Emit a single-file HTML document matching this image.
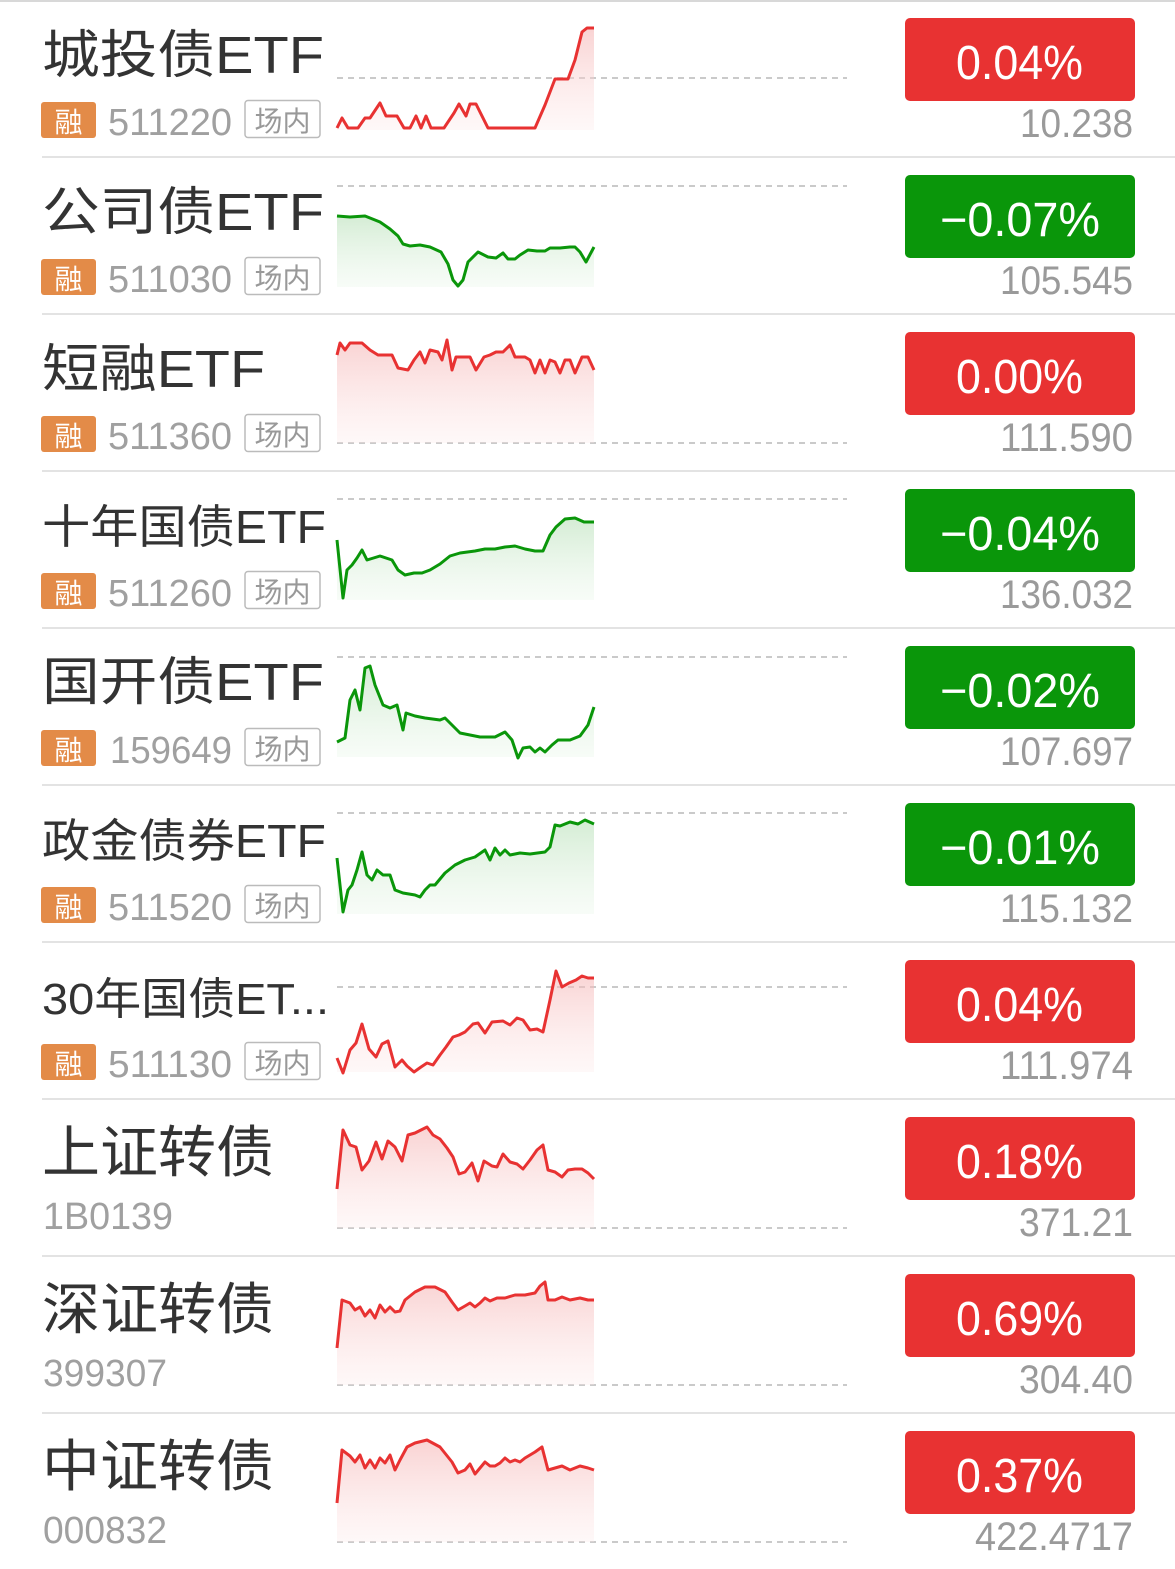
<!DOCTYPE html>
<html><head><meta charset="utf-8"><style>
html,body{margin:0;padding:0;background:#fff;}
svg{display:block;}
text{font-family:"Liberation Sans","Noto Sans CJK SC",sans-serif;}
</style></head><body>
<svg width="1175" height="1569" viewBox="0 0 1175 1569" xmlns="http://www.w3.org/2000/svg">
<defs>
<linearGradient id="gr" x1="0" y1="0" x2="0" y2="1"><stop offset="0" stop-color="#f5b5b5" stop-opacity="0.6"/><stop offset="1" stop-color="#fde8e8" stop-opacity="0.3"/></linearGradient>
<linearGradient id="gg" x1="0" y1="0" x2="0" y2="1"><stop offset="0" stop-color="#b8e0b8" stop-opacity="0.6"/><stop offset="1" stop-color="#e6f5e6" stop-opacity="0.3"/></linearGradient>
</defs>
<line x1="0" y1="1" x2="1175" y2="1" stroke="#d8d8d8" stroke-width="2"/>
<g stroke="#e3e3e3" stroke-width="2">
<line x1="42" y1="157" x2="1175" y2="157"/><line x1="42" y1="314" x2="1175" y2="314"/><line x1="42" y1="471" x2="1175" y2="471"/><line x1="42" y1="628" x2="1175" y2="628"/><line x1="42" y1="785" x2="1175" y2="785"/><line x1="42" y1="942" x2="1175" y2="942"/><line x1="42" y1="1099" x2="1175" y2="1099"/><line x1="42" y1="1256" x2="1175" y2="1256"/><line x1="42" y1="1413" x2="1175" y2="1413"/>
</g>
<g stroke="#b8b8b8" stroke-width="1.5" stroke-dasharray="6,5">
<line x1="337" y1="78" x2="847" y2="78"/><line x1="337" y1="186" x2="847" y2="186"/><line x1="337" y1="443" x2="847" y2="443"/><line x1="337" y1="499" x2="847" y2="499"/><line x1="337" y1="657" x2="847" y2="657"/><line x1="337" y1="813" x2="847" y2="813"/><line x1="337" y1="987" x2="847" y2="987"/><line x1="337" y1="1228" x2="847" y2="1228"/><line x1="337" y1="1385" x2="847" y2="1385"/><line x1="337" y1="1542" x2="847" y2="1542"/>
</g>
<g stroke-width="3" stroke-linejoin="round" fill="none">
<polygon fill="url(#gr)" stroke="none" points="337,128 342,118 348,128 358,128 365,118 370,118 380,103 386,116 397,116 404,128 410,128 416,116 421,128 426,116 431,128 444,128 454,113 459,104 466,116 470,104 476,104 488,128 535,128 545,105 555,79 568,79 575,60 582,32 587,28 594,28 594,130 337,130"/>
<polyline stroke="#e83232" points="337,128 342,118 348,128 358,128 365,118 370,118 380,103 386,116 397,116 404,128 410,128 416,116 421,128 426,116 431,128 444,128 454,113 459,104 466,116 470,104 476,104 488,128 535,128 545,105 555,79 568,79 575,60 582,32 587,28 594,28"/>
<polygon fill="url(#gg)" stroke="none" points="337,216 350,217 365,216 380,222 390,229 398,236 403,244 410,246 420,245 430,247 441,252 448,264 453,280 458,286 463,280 468,262 478,252 488,257 496,258 503,253 508,259 515,259 520,255 528,250 537,251 545,251 550,248 560,248 570,247 575,247 580,252 586,262 594,247 594,287 337,287"/>
<polyline stroke="#0a960a" points="337,216 350,217 365,216 380,222 390,229 398,236 403,244 410,246 420,245 430,247 441,252 448,264 453,280 458,286 463,280 468,262 478,252 488,257 496,258 503,253 508,259 515,259 520,255 528,250 537,251 545,251 550,248 560,248 570,247 575,247 580,252 586,262 594,247"/>
<polygon fill="url(#gr)" stroke="none" points="337,355 340,343 345,350 350,343 357,343 362,343 370,350 378,355 384,355 392,355 398,368 408,370 414,360 420,352 425,363 430,350 438,352 442,360 447,340 452,370 456,357 462,357 470,357 476,370 484,357 490,355 496,352 503,352 510,345 515,357 525,357 530,360 535,373 540,360 545,373 550,360 555,362 560,373 565,360 570,360 575,373 582,357 588,357 594,370 594,443 337,443"/>
<polyline stroke="#e83232" points="337,355 340,343 345,350 350,343 357,343 362,343 370,350 378,355 384,355 392,355 398,368 408,370 414,360 420,352 425,363 430,350 438,352 442,360 447,340 452,370 456,357 462,357 470,357 476,370 484,357 490,355 496,352 503,352 510,345 515,357 525,357 530,360 535,373 540,360 545,373 550,360 555,362 560,373 565,360 570,360 575,373 582,357 588,357 594,370"/>
<polygon fill="url(#gg)" stroke="none" points="337,540 343,598 347,570 352,565 357,558 362,550 367,560 380,556 392,560 398,570 405,575 414,573 422,573 430,570 440,564 450,556 460,553 475,551 485,549 495,549 505,547 515,546 525,549 535,551 543,551 550,535 556,527 565,519 575,518 584,522 594,522 594,600 337,600"/>
<polyline stroke="#0a960a" points="337,540 343,598 347,570 352,565 357,558 362,550 367,560 380,556 392,560 398,570 405,575 414,573 422,573 430,570 440,564 450,556 460,553 475,551 485,549 495,549 505,547 515,546 525,549 535,551 543,551 550,535 556,527 565,519 575,518 584,522 594,522"/>
<polygon fill="url(#gg)" stroke="none" points="337,742 345,738 350,700 355,690 360,710 365,668 370,666 375,685 383,705 390,708 397,705 403,730 406,713 415,716 425,718 440,720 445,718 460,733 470,735 480,737 495,737 505,732 512,740 518,758 523,748 530,747 535,752 540,748 545,752 552,745 558,740 570,740 580,736 588,725 594,707 594,757 337,757"/>
<polyline stroke="#0a960a" points="337,742 345,738 350,700 355,690 360,710 365,668 370,666 375,685 383,705 390,708 397,705 403,730 406,713 415,716 425,718 440,720 445,718 460,733 470,735 480,737 495,737 505,732 512,740 518,758 523,748 530,747 535,752 540,748 545,752 552,745 558,740 570,740 580,736 588,725 594,707"/>
<polygon fill="url(#gg)" stroke="none" points="337,858 343,912 348,890 352,885 357,870 362,852 367,875 372,880 377,870 383,875 390,875 395,890 403,893 415,895 420,897 425,890 430,885 435,885 445,873 455,865 465,860 475,857 485,850 490,860 495,848 500,855 505,850 510,855 520,853 530,854 545,852 550,847 555,825 560,826 570,822 578,824 585,820 594,824 594,914 337,914"/>
<polyline stroke="#0a960a" points="337,858 343,912 348,890 352,885 357,870 362,852 367,875 372,880 377,870 383,875 390,875 395,890 403,893 415,895 420,897 425,890 430,885 435,885 445,873 455,865 465,860 475,857 485,850 490,860 495,848 500,855 505,850 510,855 520,853 530,854 545,852 550,847 555,825 560,826 570,822 578,824 585,820 594,824"/>
<polygon fill="url(#gr)" stroke="none" points="337,1058 343,1073 350,1050 356,1043 362,1024 369,1049 376,1057 382,1044 388,1041 395,1067 402,1060 407,1066 414,1072 421,1067 427,1063 433,1065 440,1055 446,1047 453,1037 459,1035 465,1032 473,1024 478,1023 485,1033 492,1022 503,1021 510,1025 517,1018 523,1020 530,1030 537,1029 543,1032 550,1000 556,971 562,987 569,983 576,980 582,976 588,978 594,978 594,1072 337,1072"/>
<polyline stroke="#e83232" points="337,1058 343,1073 350,1050 356,1043 362,1024 369,1049 376,1057 382,1044 388,1041 395,1067 402,1060 407,1066 414,1072 421,1067 427,1063 433,1065 440,1055 446,1047 453,1037 459,1035 465,1032 473,1024 478,1023 485,1033 492,1022 503,1021 510,1025 517,1018 523,1020 530,1030 537,1029 543,1032 550,1000 556,971 562,987 569,983 576,980 582,976 588,978 594,978"/>
<polygon fill="url(#gr)" stroke="none" points="337,1189 343,1130 350,1145 356,1147 362,1170 369,1161 376,1142 382,1159 388,1141 395,1147 402,1161 408,1135 415,1133 427,1127 433,1135 440,1139 447,1148 453,1157 459,1174 465,1172 472,1163 478,1181 484,1161 492,1166 497,1167 503,1154 510,1162 517,1164 523,1169 530,1160 537,1150 543,1145 548,1170 555,1172 562,1177 568,1170 575,1169 582,1169 588,1173 594,1179 594,1228 337,1228"/>
<polyline stroke="#e83232" points="337,1189 343,1130 350,1145 356,1147 362,1170 369,1161 376,1142 382,1159 388,1141 395,1147 402,1161 408,1135 415,1133 427,1127 433,1135 440,1139 447,1148 453,1157 459,1174 465,1172 472,1163 478,1181 484,1161 492,1166 497,1167 503,1154 510,1162 517,1164 523,1169 530,1160 537,1150 543,1145 548,1170 555,1172 562,1177 568,1170 575,1169 582,1169 588,1173 594,1179"/>
<polygon fill="url(#gr)" stroke="none" points="337,1348 342,1300 350,1303 355,1310 360,1307 365,1316 370,1310 375,1318 380,1305 385,1312 390,1307 395,1312 400,1311 405,1300 415,1292 425,1287 435,1287 445,1292 452,1302 458,1310 465,1306 470,1303 475,1307 480,1303 485,1298 490,1301 497,1298 505,1298 515,1295 525,1295 535,1293 540,1286 545,1282 548,1300 555,1300 562,1297 570,1300 580,1298 588,1300 594,1300 594,1385 337,1385"/>
<polyline stroke="#e83232" points="337,1348 342,1300 350,1303 355,1310 360,1307 365,1316 370,1310 375,1318 380,1305 385,1312 390,1307 395,1312 400,1311 405,1300 415,1292 425,1287 435,1287 445,1292 452,1302 458,1310 465,1306 470,1303 475,1307 480,1303 485,1298 490,1301 497,1298 505,1298 515,1295 525,1295 535,1293 540,1286 545,1282 548,1300 555,1300 562,1297 570,1300 580,1298 588,1300 594,1300"/>
<polygon fill="url(#gr)" stroke="none" points="337,1503 342,1450 350,1456 355,1462 360,1455 365,1468 370,1460 375,1468 380,1458 385,1463 390,1455 395,1470 400,1460 407,1447 415,1443 427,1440 440,1447 452,1462 458,1473 465,1470 470,1464 475,1474 480,1468 485,1462 490,1466 495,1466 500,1463 505,1458 510,1462 515,1460 520,1462 525,1458 535,1452 542,1447 548,1470 555,1468 562,1466 570,1470 580,1466 588,1468 594,1470 594,1542 337,1542"/>
<polyline stroke="#e83232" points="337,1503 342,1450 350,1456 355,1462 360,1455 365,1468 370,1460 375,1468 380,1458 385,1463 390,1455 395,1470 400,1460 407,1447 415,1443 427,1440 440,1447 452,1462 458,1473 465,1470 470,1464 475,1474 480,1468 485,1462 490,1466 495,1466 500,1463 505,1458 510,1462 515,1460 520,1462 525,1458 535,1452 542,1447 548,1470 555,1468 562,1466 570,1470 580,1466 588,1468 594,1470"/>
</g>
<g fill="#333">
<text x="42" y="73" font-size="52" textLength="282" lengthAdjust="spacingAndGlyphs">城投债ETF</text>
<text x="42" y="230" font-size="52" textLength="282" lengthAdjust="spacingAndGlyphs">公司债ETF</text>
<text x="42" y="387" font-size="52" textLength="223" lengthAdjust="spacingAndGlyphs">短融ETF</text>
<text x="42" y="543" font-size="46" textLength="284" lengthAdjust="spacingAndGlyphs">十年国债ETF</text>
<text x="42" y="700" font-size="52" textLength="282" lengthAdjust="spacingAndGlyphs">国开债ETF</text>
<text x="42" y="857" font-size="46" textLength="284" lengthAdjust="spacingAndGlyphs">政金债券ETF</text>
<text x="42" y="1014" font-size="44" textLength="287" lengthAdjust="spacingAndGlyphs">30年国债ET...</text>
<text x="42" y="1172" font-size="56" textLength="232" lengthAdjust="spacingAndGlyphs">上证转债</text>
<text x="42" y="1329" font-size="56" textLength="232" lengthAdjust="spacingAndGlyphs">深证转债</text>
<text x="42" y="1486" font-size="56" textLength="232" lengthAdjust="spacingAndGlyphs">中证转债</text>
</g>
<g>
<g transform="translate(0,0)"><rect x="41" y="102" width="55" height="36" rx="3" fill="#e38b48"/><text x="68.5" y="132" font-size="28" fill="#fff" text-anchor="middle">融</text><text x="108" y="135" font-size="38" fill="#a0a0a0" textLength="124" lengthAdjust="spacingAndGlyphs">511220</text><rect x="245" y="100.5" width="75" height="37" rx="3" fill="none" stroke="#bbb" stroke-width="1.5"/><text x="282.5" y="131" font-size="28" fill="#999" text-anchor="middle">场内</text></g>
<g transform="translate(0,157)"><rect x="41" y="102" width="55" height="36" rx="3" fill="#e38b48"/><text x="68.5" y="132" font-size="28" fill="#fff" text-anchor="middle">融</text><text x="108" y="135" font-size="38" fill="#a0a0a0" textLength="124" lengthAdjust="spacingAndGlyphs">511030</text><rect x="245" y="100.5" width="75" height="37" rx="3" fill="none" stroke="#bbb" stroke-width="1.5"/><text x="282.5" y="131" font-size="28" fill="#999" text-anchor="middle">场内</text></g>
<g transform="translate(0,314)"><rect x="41" y="102" width="55" height="36" rx="3" fill="#e38b48"/><text x="68.5" y="132" font-size="28" fill="#fff" text-anchor="middle">融</text><text x="108" y="135" font-size="38" fill="#a0a0a0" textLength="124" lengthAdjust="spacingAndGlyphs">511360</text><rect x="245" y="100.5" width="75" height="37" rx="3" fill="none" stroke="#bbb" stroke-width="1.5"/><text x="282.5" y="131" font-size="28" fill="#999" text-anchor="middle">场内</text></g>
<g transform="translate(0,471)"><rect x="41" y="102" width="55" height="36" rx="3" fill="#e38b48"/><text x="68.5" y="132" font-size="28" fill="#fff" text-anchor="middle">融</text><text x="108" y="135" font-size="38" fill="#a0a0a0" textLength="124" lengthAdjust="spacingAndGlyphs">511260</text><rect x="245" y="100.5" width="75" height="37" rx="3" fill="none" stroke="#bbb" stroke-width="1.5"/><text x="282.5" y="131" font-size="28" fill="#999" text-anchor="middle">场内</text></g>
<g transform="translate(0,628)"><rect x="41" y="102" width="55" height="36" rx="3" fill="#e38b48"/><text x="68.5" y="132" font-size="28" fill="#fff" text-anchor="middle">融</text><text x="110" y="135" font-size="38" fill="#a0a0a0" textLength="122" lengthAdjust="spacingAndGlyphs">159649</text><rect x="245" y="100.5" width="75" height="37" rx="3" fill="none" stroke="#bbb" stroke-width="1.5"/><text x="282.5" y="131" font-size="28" fill="#999" text-anchor="middle">场内</text></g>
<g transform="translate(0,785)"><rect x="41" y="102" width="55" height="36" rx="3" fill="#e38b48"/><text x="68.5" y="132" font-size="28" fill="#fff" text-anchor="middle">融</text><text x="108" y="135" font-size="38" fill="#a0a0a0" textLength="124" lengthAdjust="spacingAndGlyphs">511520</text><rect x="245" y="100.5" width="75" height="37" rx="3" fill="none" stroke="#bbb" stroke-width="1.5"/><text x="282.5" y="131" font-size="28" fill="#999" text-anchor="middle">场内</text></g>
<g transform="translate(0,942)"><rect x="41" y="102" width="55" height="36" rx="3" fill="#e38b48"/><text x="68.5" y="132" font-size="28" fill="#fff" text-anchor="middle">融</text><text x="108" y="135" font-size="38" fill="#a0a0a0" textLength="124" lengthAdjust="spacingAndGlyphs">511130</text><rect x="245" y="100.5" width="75" height="37" rx="3" fill="none" stroke="#bbb" stroke-width="1.5"/><text x="282.5" y="131" font-size="28" fill="#999" text-anchor="middle">场内</text></g>
</g>
<g fill="#a0a0a0" font-size="38">
<text x="43" y="1229" textLength="130" lengthAdjust="spacingAndGlyphs">1B0139</text>
<text x="43" y="1386" textLength="124" lengthAdjust="spacingAndGlyphs">399307</text>
<text x="43" y="1543" textLength="124" lengthAdjust="spacingAndGlyphs">000832</text>
</g>
<g>
<rect x="905" y="18" width="230" height="83" rx="5" fill="#e83232"/>
<rect x="905" y="175" width="230" height="83" rx="5" fill="#0a960a"/>
<rect x="905" y="332" width="230" height="83" rx="5" fill="#e83232"/>
<rect x="905" y="489" width="230" height="83" rx="5" fill="#0a960a"/>
<rect x="905" y="646" width="230" height="83" rx="5" fill="#0a960a"/>
<rect x="905" y="803" width="230" height="83" rx="5" fill="#0a960a"/>
<rect x="905" y="960" width="230" height="83" rx="5" fill="#e83232"/>
<rect x="905" y="1117" width="230" height="83" rx="5" fill="#e83232"/>
<rect x="905" y="1274" width="230" height="83" rx="5" fill="#e83232"/>
<rect x="905" y="1431" width="230" height="83" rx="5" fill="#e83232"/>
</g>
<g fill="#fff" font-size="48">
<text x="956" y="79" textLength="127" lengthAdjust="spacingAndGlyphs">0.04%</text>
<text x="940" y="236" textLength="160" lengthAdjust="spacingAndGlyphs">−0.07%</text>
<text x="956" y="393" textLength="127" lengthAdjust="spacingAndGlyphs">0.00%</text>
<text x="940" y="550" textLength="160" lengthAdjust="spacingAndGlyphs">−0.04%</text>
<text x="940" y="707" textLength="160" lengthAdjust="spacingAndGlyphs">−0.02%</text>
<text x="940" y="864" textLength="160" lengthAdjust="spacingAndGlyphs">−0.01%</text>
<text x="956" y="1021" textLength="127" lengthAdjust="spacingAndGlyphs">0.04%</text>
<text x="956" y="1178" textLength="127" lengthAdjust="spacingAndGlyphs">0.18%</text>
<text x="956" y="1335" textLength="127" lengthAdjust="spacingAndGlyphs">0.69%</text>
<text x="956" y="1492" textLength="127" lengthAdjust="spacingAndGlyphs">0.37%</text>
</g>
<g fill="#9a9a9a" font-size="40">
<text x="1020" y="137" textLength="113" lengthAdjust="spacingAndGlyphs">10.238</text>
<text x="1000" y="294" textLength="133" lengthAdjust="spacingAndGlyphs">105.545</text>
<text x="1000" y="451" textLength="133" lengthAdjust="spacingAndGlyphs">111.590</text>
<text x="1000" y="608" textLength="133" lengthAdjust="spacingAndGlyphs">136.032</text>
<text x="1000" y="765" textLength="133" lengthAdjust="spacingAndGlyphs">107.697</text>
<text x="1000" y="922" textLength="133" lengthAdjust="spacingAndGlyphs">115.132</text>
<text x="1000" y="1079" textLength="133" lengthAdjust="spacingAndGlyphs">111.974</text>
<text x="1019" y="1236" textLength="114" lengthAdjust="spacingAndGlyphs">371.21</text>
<text x="1019" y="1393" textLength="114" lengthAdjust="spacingAndGlyphs">304.40</text>
<text x="975" y="1550" textLength="158" lengthAdjust="spacingAndGlyphs">422.4717</text>
</g>
</svg>
</body></html>
